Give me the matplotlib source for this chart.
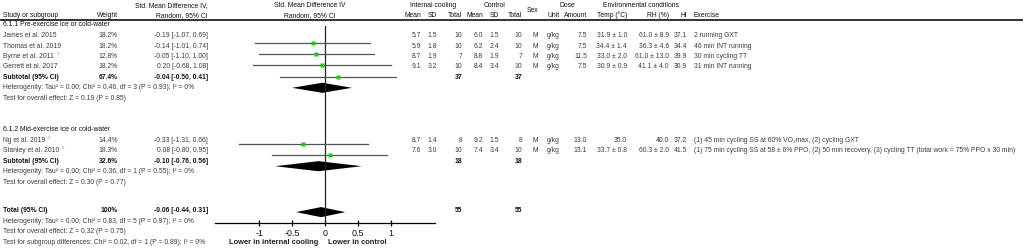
import matplotlib
matplotlib.use("Agg")
import matplotlib.pyplot as plt

plt.rcParams['font.family'] = ['Liberation Sans', 'DejaVu Sans']

# ---- data ----
studies1 = ["James et al. 2015", "Thomas et al. 2019", "Byrne et al. 2011", "Gerrett et al. 2017"]
notes1 = ["", "", "1", ""]
weights1 = [18.2, 18.2, 12.8, 18.2]
smd1 = [-0.19, -0.14, -0.05, 0.20]
lo1 = [-1.07, -1.01, -1.10, -0.68]
hi1 = [0.69, 0.74, 1.00, 1.08]
ic_mean1 = [5.7, 5.9, 8.7, 9.1]
ic_sd1 = [1.5, 1.8, 1.9, 3.2]
ic_n1 = [10, 10, 7, 10]
ct_mean1 = [6.0, 6.2, 8.8, 8.4]
ct_sd1 = [1.5, 2.4, 1.9, 3.4]
ct_n1 = [10, 10, 7, 10]
amount1 = [7.5, 7.5, 11.5, 7.5]
temp1 = ["31.9 ± 1.0", "34.4 ± 1.4", "33.0 ± 2.0", "30.9 ± 0.9"]
rh1 = ["61.0 ± 8.9", "36.3 ± 4.6", "61.0 ± 13.0", "41.1 ± 4.0"]
heat1 = [37.1, 34.4, 39.9, 30.9]
exercise1 = ["2 running GXT", "46 min INT running", "30 min cycling TT", "31 min INT running"]

studies2 = ["Ng et al. 2019", "Stanley et al. 2010"]
notes2 = ["2", "2"]
weights2 = [14.4, 18.3]
smd2 = [-0.33, 0.08]
lo2 = [-1.31, -0.80]
hi2 = [0.66, 0.95]
ic_mean2 = [8.7, 7.6]
ic_sd2 = [1.4, 3.0]
ic_n2 = [8, 10]
ct_mean2 = [9.2, 7.4]
ct_sd2 = [1.5, 3.4]
ct_n2 = [8, 10]
amount2 = [13.0, 13.1]
temp2 = ["35.0", "33.7 ± 0.8"]
rh2 = ["40.0", "60.3 ± 2.0"]
heat2 = [37.2, 41.5]
exercise2 = ["(1) 45 min cycling SS at 60% VO\u2082max, (2) cycling GXT",
             "(1) 75 min cycling SS at 58 ± 6% PPO, (2) 50 min recovery, (3) cycling TT (total work = 75% PPO x 30 min)"]

groups = ["6.1.1 Pre-exercise ice or cold-water", "6.1.2 Mid-exercise ice or cold-water"]
sub_weight = [67.4, 32.6]
sub_smd = [-0.04, -0.10]
sub_lo = [-0.50, -0.76]
sub_hi = [0.41, 0.56]
sub_n_ic = [37, 18]
sub_n_ct = [37, 18]
sub_het = ["Heterogenity: Tau\u00b2 = 0.00; Chi\u00b2 = 0.46, df = 3 (P = 0.93); I\u00b2 = 0%",
           "Heterogenity: Tau\u00b2 = 0.00; Chi\u00b2 = 0.36, df = 1 (P = 0.55); I\u00b2 = 0%"]
sub_test = ["Test for overall effect: Z = 0.19 (P = 0.85)",
            "Test for overall effect: Z = 0.30 (P = 0.77)"]

tot_weight = 100
tot_smd, tot_lo, tot_hi = -0.06, -0.44, 0.31
tot_n_ic, tot_n_ct = 55, 55
tot_notes = ["Heterogenity: Tau\u00b2 = 0.00; Chi\u00b2 = 0.83, df = 5 (P = 0.97); I\u00b2 = 0%",
             "Test for overall effect: Z = 0.32 (P = 0.75)",
             "Test for subgroup differences: Chi\u00b2 = 0.02, df = 1 (P = 0.89); I\u00b2 = 0%"]

ticks = [-1, -0.5, 0, 0.5, 1]
tick_labels = ["-1", "-0.5", "0", "0.5", "1"]

# ---- layout (pixels) ----
W, H = 1024, 251
fs = 4.9
txt = '#3c3c3c'
hdr = '#111111'

# text row centres
y_h1, y_h2, y_rule = 5.5, 15.5, 20.5
g1_rows = [35.5, 46, 56.5, 67]
y_g1, y_sub1, y_het1, y_test1 = 25, 77.5, 88, 98.5
g2_rows = [140.5, 151]
y_g2, y_sub2, y_het2, y_test2 = 130, 161.5, 172, 182.5
y_tot = [211, 221.5, 232, 242.5]

# column x (right edge unless noted)
x_study = 3
x_weight = 118
x_ci = 208
x_icm, x_icsd, x_icn = 421, 437, 462
x_ctm, x_ctsd, x_ctn = 483, 499, 522
x_sex = 538
x_unit = 547
x_amt = 587
x_temp = 627
x_rh = 669
x_hi = 687
x_ex = 694

fig = plt.figure(figsize=(W / 100, H / 100), dpi=100)
tab = fig.add_axes([0, 0, 1, 1])
tab.set_xlim(0, W)
tab.set_ylim(H, 0)
tab.axis("off")


def t(x, y, s, ha='right', bold=False, color=txt, size=fs):
    return tab.text(x, y, s, ha=ha, va='center', fontsize=size, color=color,
                    fontweight='bold' if bold else 'normal')


# headers
t(x_study, y_h2, "Study or subgroup", ha='left', color=hdr)
t(x_weight, y_h2, "Weight", color=hdr)
t(x_ci, y_h1, "Std. Mean Difference IV,", color=hdr)
t(x_ci, y_h2, "Random, 95% CI", color=hdr)
t(310, y_h1, "Std. Mean Difference IV", ha='center', color=hdr)
t(310, y_h2, "Random, 95% CI", ha='center', color=hdr)
t(433, y_h1, "Internal cooling", ha='center', color=hdr)
t(x_icm, y_h2, "Mean", color=hdr)
t(x_icsd, y_h2, "SD", color=hdr)
t(x_icn, y_h2, "Total", color=hdr)
t(495, y_h1, "Control", ha='center', color=hdr)
t(x_ctm, y_h2, "Mean", color=hdr)
t(x_ctsd, y_h2, "SD", color=hdr)
t(x_ctn, y_h2, "Total", color=hdr)
t(x_sex, 10.5, "Sex", color=hdr)
t(567, y_h1, "Dose", ha='center', color=hdr)
t(x_unit, y_h2, "Unit", ha='left', color=hdr)
t(x_amt, y_h2, "Amount", color=hdr)
t(641, y_h1, "Environmental conditions", ha='center', color=hdr)
t(x_temp, y_h2, "Temp (\u00b0C)", color=hdr)
t(x_rh, y_h2, "RH (%)", color=hdr)
t(x_hi, y_h2, "HI", color=hdr)
t(x_ex, y_h2, "Exercise", ha='left', color=hdr)
tab.plot([0, 1022], [y_rule, y_rule], color='#333333', lw=1.4)

renderer = fig.canvas.get_renderer()


def study_rows(rows, names, notes, w, smd, lo, hi, icm, icsd, icn, ctm, ctsd, ctn,
               amt, temp, rh, heat, ex):
    for i, y in enumerate(rows):
        name = t(x_study, y, names[i], ha='left')
        if notes[i]:
            # small grey footnote mark after the study name
            bb = name.get_window_extent(renderer=renderer)
            tab.text(bb.x1 + 2.5, y - 2.5, notes[i], ha='left', va='center',
                     fontsize=fs * 0.65, color='#8a8a8a')
        t(x_weight, y, f"{w[i]:.1f}%")
        t(x_ci, y, f"{smd[i]:.2f} [{lo[i]:.2f}, {hi[i]:.2f}]")
        t(x_icm, y, f"{icm[i]:.1f}")
        t(x_icsd, y, f"{icsd[i]:.1f}")
        t(x_icn, y, f"{icn[i]}")
        t(x_ctm, y, f"{ctm[i]:.1f}")
        t(x_ctsd, y, f"{ctsd[i]:.1f}")
        t(x_ctn, y, f"{ctn[i]}")
        t(x_sex, y, "M")
        t(x_unit, y, "g/kg", ha='left')
        t(x_amt, y, f"{amt[i]:.1f}")
        t(x_temp, y, temp[i])
        t(x_rh, y, rh[i])
        t(x_hi, y, f"{heat[i]:.1f}")
        t(x_ex, y, ex[i], ha='left')


def subtotal(y, label, w, m, a, b, n1, n2):
    t(x_study, y, label, ha='left', bold=True, color=hdr)
    t(x_weight, y, w, bold=True, color=hdr)
    t(x_ci, y, f"{m:.2f} [{a:.2f}, {b:.2f}]", bold=True, color=hdr)
    t(x_icn, y, f"{n1}", bold=True, color=hdr)
    t(x_ctn, y, f"{n2}", bold=True, color=hdr)


t(x_study, y_g1, groups[0], ha='left', color=hdr)
study_rows(g1_rows, studies1, notes1, weights1, smd1, lo1, hi1, ic_mean1, ic_sd1, ic_n1,
           ct_mean1, ct_sd1, ct_n1, amount1, temp1, rh1, heat1, exercise1)
subtotal(y_sub1, "Subtotal (95% CI)", f"{sub_weight[0]:.1f}%", sub_smd[0], sub_lo[0], sub_hi[0],
         sub_n_ic[0], sub_n_ct[0])
t(x_study, y_het1, sub_het[0], ha='left')
t(x_study, y_test1, sub_test[0], ha='left')

t(x_study, y_g2, groups[1], ha='left', color=hdr)
study_rows(g2_rows, studies2, notes2, weights2, smd2, lo2, hi2, ic_mean2, ic_sd2, ic_n2,
           ct_mean2, ct_sd2, ct_n2, amount2, temp2, rh2, heat2, exercise2)
subtotal(y_sub2, "Subtotal (95% CI)", f"{sub_weight[1]:.1f}%", sub_smd[1], sub_lo[1], sub_hi[1],
         sub_n_ic[1], sub_n_ct[1])
t(x_study, y_het2, sub_het[1], ha='left')
t(x_study, y_test2, sub_test[1], ha='left')

subtotal(y_tot[0], "Total (95% CI)", f"{tot_weight}%", tot_smd, tot_lo, tot_hi, tot_n_ic, tot_n_ct)
for y, s in zip(y_tot[1:], tot_notes):
    t(x_study, y, s, ha='left')

# ---- forest panel ----
zero_px, unit_px = 325, 65.7
xmin, xmax = -1.68, 1.68
row0_px, row_px = 44, 11.2
top_px, axis_px = 27, 224
ax = fig.add_axes([(zero_px + xmin * unit_px) / W, (H - axis_px) / H,
                   (xmax - xmin) * unit_px / W, (axis_px - top_px) / H])
ax.set_xlim(xmin, xmax)
ax.set_ylim((axis_px - row0_px) / row_px, (top_px - row0_px) / row_px)
ax.patch.set_alpha(0)
for s in ['top', 'left', 'right']:
    ax.spines[s].set_visible(False)
ax.spines['bottom'].set_linewidth(0.9)
ax.set_yticks([])
ax.set_xticks(ticks)
ax.set_xticklabels(tick_labels, fontsize=6.4, color='#111111')
ax.tick_params(axis='x', direction='inout', length=5, width=0.9, pad=1)
ax.axvline(0, color='#222222', lw=0.9)

frows1 = [0, 1, 2, 3]
frows2 = [9, 10]
fsub = [4, 11]
ftot = 15.1

for rows, smd, lo, hi, w in [(frows1, smd1, lo1, hi1, weights1), (frows2, smd2, lo2, hi2, weights2)]:
    for r, m, a, b, ww in zip(rows, smd, lo, hi, w):
        ax.plot([a, b], [r, r], color='#555555', lw=0.9)
        ax.plot(m, r, 's', color='#10d010', ms=ww * 0.17, mec='none')


def diamond(r, m, a, b):
    ax.fill([a, m, b, m], [r, r - 0.45, r, r + 0.45], color='black', lw=0)


for r, m, a, b in zip(fsub, sub_smd, sub_lo, sub_hi):
    diamond(r, m, a, b)
diamond(ftot, tot_smd, tot_lo, tot_hi)

tab.text(zero_px - 7, 243, "Lower in internal cooling", ha='right', va='center', fontsize=5.4,
         fontweight='bold', color='#222222')
tab.text(zero_px + 3, 243, "Lower in control", ha='left', va='center', fontsize=5.4,
         fontweight='bold', color='#222222')

fig.savefig("out.png", dpi=100)
